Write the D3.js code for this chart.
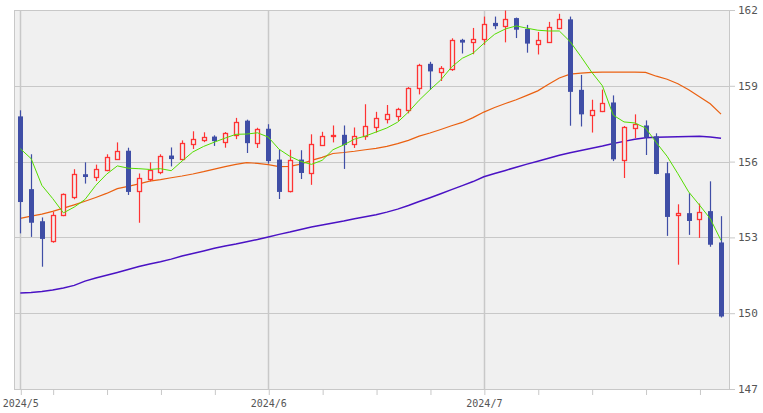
<!DOCTYPE html>
<html><head><meta charset="utf-8">
<script src="https://cdn.jsdelivr.net/npm/d3@7/dist/d3.min.js"></script>
<style>html,body{margin:0;padding:0;background:#fff;}svg{display:block;}</style>
</head><body>
<script>
const dates = ["2024-05-01","2024-05-02","2024-05-03","2024-05-06","2024-05-07","2024-05-08","2024-05-09","2024-05-10","2024-05-13","2024-05-14","2024-05-15","2024-05-16","2024-05-17","2024-05-20","2024-05-21","2024-05-22","2024-05-23","2024-05-24","2024-05-27","2024-05-28","2024-05-29","2024-05-30","2024-05-31",
"2024-06-03","2024-06-04","2024-06-05","2024-06-06","2024-06-07","2024-06-10","2024-06-11","2024-06-12","2024-06-13","2024-06-14","2024-06-17","2024-06-18","2024-06-19","2024-06-20","2024-06-21","2024-06-24","2024-06-25","2024-06-26","2024-06-27","2024-06-28",
"2024-07-01","2024-07-02","2024-07-03","2024-07-04","2024-07-05","2024-07-08","2024-07-09","2024-07-10","2024-07-11","2024-07-12","2024-07-15","2024-07-16","2024-07-17","2024-07-18","2024-07-19","2024-07-22","2024-07-23","2024-07-24","2024-07-25","2024-07-26","2024-07-29","2024-07-30","2024-07-31"];

const open  = [157.79,154.91,153.64,152.84,153.87,154.61,155.50,155.41,155.68,156.12,156.43,154.82,155.33,155.57,156.24,156.12,156.71,156.87,156.99,156.79,157.07,157.62,156.75,157.30,156.08,154.84,156.08,155.56,156.67,157.00,157.06,156.68,157.02,157.35,157.68,157.79,158.04,158.91,159.87,159.54,159.65,160.82,160.72,160.84,161.49,161.38,161.68,161.25,160.65,160.72,161.27,161.63,158.84,157.84,158.00,158.34,156.08,157.34,157.43,157.00,155.54,153.87,153.96,153.73,154.04,152.80];
const high  = [158.03,156.29,153.79,154.01,154.74,155.70,155.97,155.88,156.29,156.76,156.55,155.53,155.97,156.29,156.56,156.84,157.20,157.16,157.04,157.17,157.73,157.66,157.34,157.48,156.49,156.47,156.45,157.08,157.18,157.43,157.43,157.35,158.27,157.97,158.24,158.13,158.95,159.87,159.95,159.78,160.88,160.86,161.29,161.74,161.74,161.98,161.70,161.41,161.13,161.53,161.85,161.74,159.43,158.45,158.85,158.62,157.41,157.87,157.63,157.12,155.98,154.31,154.75,154.34,155.22,153.84];
const low   = [153.16,153.02,151.84,152.79,153.84,154.51,155.13,155.23,155.62,156.10,154.68,153.58,155.22,155.50,155.81,156.08,156.50,156.77,156.62,156.55,156.89,156.34,156.54,155.92,154.52,154.78,155.31,155.08,156.65,156.76,155.71,156.54,156.86,157.15,157.51,157.61,157.91,158.66,158.84,159.19,159.59,160.28,160.25,160.62,161.24,160.72,160.89,160.31,160.24,160.70,161.24,157.42,157.39,157.15,157.96,156.02,155.35,156.93,156.26,155.50,153.06,151.92,153.10,152.98,152.63,149.83];
const close = [154.40,153.58,152.94,153.87,154.70,155.49,155.39,155.72,156.20,156.43,154.80,155.37,155.66,156.24,156.10,156.75,156.91,156.99,156.81,157.14,157.58,156.73,157.30,156.02,154.80,156.08,155.55,156.71,157.03,157.06,156.66,157.03,157.40,157.72,157.88,158.08,158.91,159.82,159.57,159.70,160.80,160.71,160.84,161.45,161.36,161.66,161.22,160.67,160.80,161.32,161.66,158.76,157.87,158.06,158.32,156.09,157.38,157.50,156.96,155.51,153.81,153.95,153.65,154.02,152.71,149.87];

const ma5  = [156.51,156.12,155.06,154.54,153.97,154.20,154.50,155.06,155.50,155.83,155.74,155.72,155.69,155.72,155.64,156.02,156.38,156.60,156.77,156.93,157.08,157.09,157.14,156.97,156.49,156.21,156.01,155.89,156.05,156.47,156.66,156.89,157.01,157.17,157.33,157.56,157.96,158.43,158.84,159.23,159.74,160.09,160.29,160.68,161.04,161.25,161.37,161.28,161.20,161.17,161.17,160.75,160.16,159.54,159.00,157.84,157.57,157.53,157.33,156.75,156.21,155.52,154.80,154.28,153.74,152.88];
const ma25 = [153.75,153.84,153.92,154.03,154.16,154.29,154.43,154.58,154.74,154.93,155.02,155.12,155.23,155.29,155.36,155.43,155.51,155.60,155.70,155.80,155.89,155.96,155.93,155.88,155.80,155.81,155.90,156.05,156.17,156.32,156.36,156.41,156.47,156.52,156.60,156.71,156.84,157.01,157.13,157.27,157.42,157.55,157.74,157.96,158.14,158.30,158.45,158.62,158.80,159.06,159.31,159.46,159.50,159.53,159.54,159.54,159.54,159.54,159.53,159.38,159.26,159.08,158.84,158.57,158.29,157.88];
const ma75 = [150.80,150.82,150.86,150.92,151.00,151.10,151.27,151.39,151.50,151.61,151.73,151.85,151.95,152.04,152.14,152.26,152.36,152.46,152.57,152.66,152.74,152.83,152.92,153.02,153.12,153.21,153.31,153.41,153.49,153.57,153.65,153.74,153.82,153.90,154.00,154.12,154.26,154.42,154.57,154.73,154.89,155.05,155.21,155.40,155.53,155.65,155.78,155.90,156.01,156.13,156.25,156.35,156.44,156.53,156.62,156.72,156.80,156.88,156.94,156.96,156.97,156.98,156.99,157.00,156.97,156.92];

const yTicks = [147,150,153,156,159,162];
const monthLabels = ["2024/5","2024/6","2024/7"];
const monthStart = ["2024-05-01","2024-06-03","2024-07-01"];

const W = 763, H = 413;
const L = 14, R = 729, T = 10, B = 389;

const svg = d3.select("body").append("svg").attr("width", W).attr("height", H);

const x = d3.scaleLinear().domain([-0.585, 65.74]).range([L, R]);
const y = d3.scaleLinear().domain([147, 162]).range([B, T]);

const bg = "#f0f0f0", grid = "#c8c8c8";
svg.append("rect").attr("x", L).attr("y", T).attr("width", R - L).attr("height", B - T).attr("fill", bg);

svg.append("g").selectAll("line").data(yTicks).join("line")
  .attr("x1", L).attr("x2", R)
  .attr("y1", d => Math.round(y(d)) + 0.5).attr("y2", d => Math.round(y(d)) + 0.5)
  .attr("stroke", grid).attr("stroke-width", 1);

const monthIdx = monthStart.map(d => dates.indexOf(d));
svg.append("g").selectAll("line").data(monthIdx).join("line")
  .attr("x1", d => Math.round(x(d)) + 0.5).attr("x2", d => Math.round(x(d)) + 0.5)
  .attr("y1", T).attr("y2", B)
  .attr("stroke", grid).attr("stroke-width", 1.5);

svg.append("rect").attr("x", L + 0.5).attr("y", T + 0.5).attr("width", R - L).attr("height", B - T)
  .attr("fill", "none").attr("stroke", grid).attr("stroke-width", 1);

const tickIdx = dates.map((d, i) => i).filter(i => {
  const dt = new Date(dates[i] + "T00:00:00");
  return dt.getDay() === 1 || monthIdx.includes(i);
});
const xAxis = d3.axisBottom(x).tickValues(tickIdx).tickSize(6)
  .tickFormat(i => { const k = monthIdx.indexOf(i); return k >= 0 ? monthLabels[k] : ""; });
const gx = svg.append("g").attr("transform", `translate(0,${B})`).call(xAxis);
gx.select(".domain").remove();
gx.selectAll(".tick line").attr("stroke", grid).attr("transform", "translate(0.5,0)");
gx.selectAll(".tick text").attr("fill", "#555").attr("font-family", "DejaVu Sans Mono").attr("font-size", 10).attr("dy", "0.9em");

const yAxis = d3.axisRight(y).tickValues(yTicks).tickSize(6).tickPadding(3).tickFormat(d3.format("d"));
const gy = svg.append("g").attr("transform", `translate(${R},0)`).call(yAxis);
gy.select(".domain").remove();
gy.selectAll(".tick line").attr("stroke", grid);
gy.selectAll(".tick text").attr("fill", "#555").attr("font-family", "DejaVu Sans Mono").attr("font-size", 11);

const lineGen = arr => d3.line().x((d, i) => x(i)).y(d => y(d))(arr);
svg.append("path").attr("d", lineGen(ma75)).attr("fill", "none").attr("stroke", "#4a12c4").attr("stroke-width", 1.5);
svg.append("path").attr("d", lineGen(ma25)).attr("fill", "none").attr("stroke", "#ea6010").attr("stroke-width", 1.2);

const blue = "#3f4ea6", red = "#ff3333";
const cg = svg.append("g");
const candles = dates.map((d, i) => ({i, o: open[i], h: high[i], l: low[i], c: close[i]}));
candles.forEach(d => {
  const cx = Math.round(x(d.i));
  const up = d.c >= d.o;
  const col = up ? red : blue;
  const yt = y(Math.max(d.o, d.c)), yb = y(Math.min(d.o, d.c));
  cg.append("line").attr("x1", cx + 0.5).attr("x2", cx + 0.5).attr("y1", y(d.h)).attr("y2", y(d.l))
    .attr("stroke", col).attr("stroke-width", 1.2);
  if (up) {
    cg.append("rect").attr("x", cx - 1.5).attr("y", Math.round(yt) + 0.5).attr("width", 4)
      .attr("height", Math.max(1, Math.round(yb) - Math.round(yt)))
      .attr("fill", bg).attr("stroke", col).attr("stroke-width", 1.3);
  } else {
    cg.append("rect").attr("x", cx - 2).attr("y", yt).attr("width", 5)
      .attr("height", Math.max(1, yb - yt)).attr("fill", col);
  }
});

svg.append("path").attr("d", lineGen(ma5)).attr("fill", "none").attr("stroke", "#55dd00").attr("stroke-width", 1);
</script>
</body></html>
